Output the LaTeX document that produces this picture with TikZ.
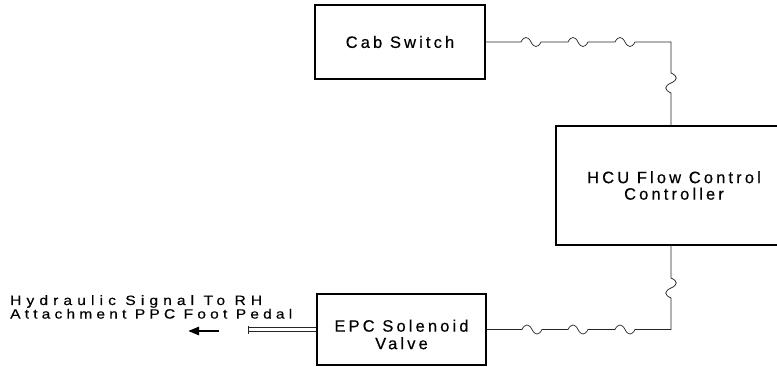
\documentclass[tikz,border=0pt]{standalone}
\usepackage{fontspec}
\setmainfont{Liberation Sans}
\newfontfamily\boxfont{Liberation Sans}[LetterSpace=19, FakeBold=0.4]
\newfontfamily\sigfont{Liberation Sans}[LetterSpace=31, FakeStretch=1.15, FakeBold=0.4]
\newfontfamily\sigfontw{Liberation Sans}[LetterSpace=38, FakeStretch=1.15, FakeBold=0.4]
\usetikzlibrary{arrows.meta}
\newcommand\hsq{.. controls +(3,-6) and +(-3,-6) .. ++(10,0) .. controls +(3,6) and +(-3,6) .. ++(10,0)}
\newcommand\vsqd{.. controls +(7,3) and +(7,-3) .. ++(0,10) .. controls +(-7,3) and +(-7,-3) .. ++(0,10)}
\newcommand\vsqu{.. controls +(-7,-3) and +(-7,3) .. ++(0,-10) .. controls +(7,-3) and +(7,3) .. ++(0,-10)}
\tikzset{
  box/.style={draw, line width=1.2pt, inner sep=0pt, align=center,
    font=\boxfont\fontsize{16.5}{16.5}\selectfont},
  lbl/.style={inner sep=0pt, align=center, font=\boxfont\fontsize{16.5}{17.5}\selectfont},
  conn/.style={line width=0.7pt, black!85},
}
\begin{document}
\begin{tikzpicture}[x=1pt, y=-1pt]
\useasboundingbox (0,0) rectangle (777,367);
\node[box, minimum width=170pt, minimum height=74pt] (cab) at (400,42) {Cab Switch};
\node[box, minimum width=236pt, minimum height=119pt] (hcu) at (674,185.5) {HCU Flow Control\\Controller};
\node[box, minimum width=169pt, minimum height=71pt,
  label={[lbl, yshift=-5pt]center:{EPC Solenoid\\Valve}}] (epc) at (401.5,329.5) {};
\coordinate (c1) at (671,42);
\coordinate (c2) at (671,329.5);
\draw[conn] (cab.east) -- (521,42) \hsq -- (568,42) \hsq -- (615,42) \hsq -- (c1)
  -- (671,73) \vsqd -- (c1 |- hcu.north);
\draw[conn] (epc.east) -- (522,329.5) \hsq -- (568,329.5) \hsq -- (615,329.5) \hsq -- (c2)
  -- (671,298) \vsqu -- (c2 |- hcu.south);
\coordinate (d1) at (248,329.5);
\draw[line width=0.7pt, black!85, double, double distance=3.2pt] (epc.west) -- (d1);
\draw[conn] (d1) ++(0,-4) -- ++(0,8);
\coordinate (a1) at (219,331);
\coordinate (a2) at (188,331);
\draw[line width=2.6pt, -{Triangle[length=11pt,width=8pt]}] (a1) -- (a2);
\node[inner sep=0pt, anchor=north west, align=left,
  font=\sigfont\fontsize{13.5}{10.5}\selectfont] (sig) at (10,295)
  {{\sigfontw Hydraulic Signal To RH}\\Attachment PPC Foot Pedal};
\end{tikzpicture}
\end{document}
